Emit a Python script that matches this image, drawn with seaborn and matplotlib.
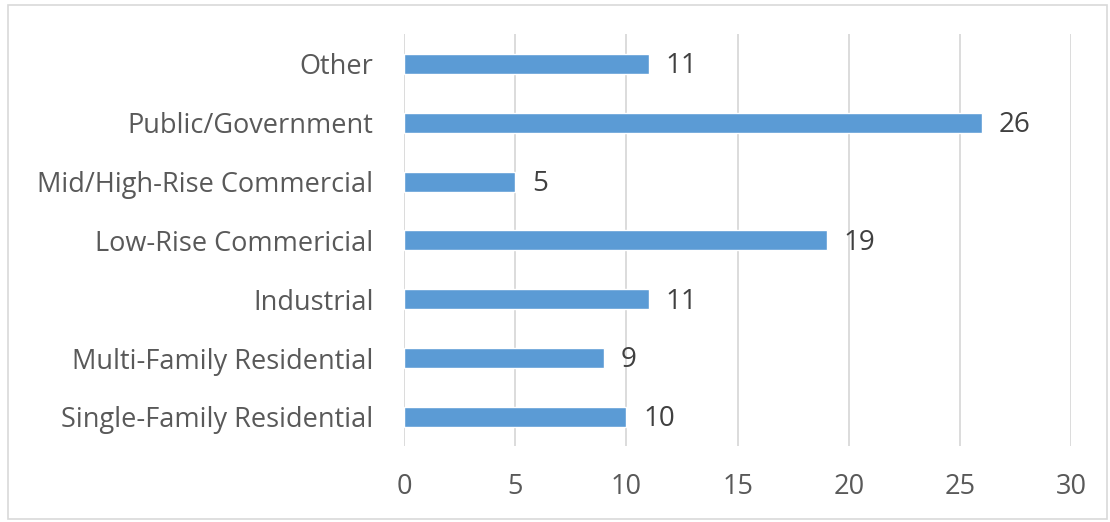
import matplotlib
matplotlib.use("Agg")
import matplotlib.pyplot as plt
import seaborn as sns
import pandas as pd
from matplotlib.patches import Rectangle

# 数据
categories = ["Other", "Public/Government", "Mid/High-Rise Commercial",
              "Low-Rise Commericial", "Industrial", "Multi-Family Residential",
              "Single-Family Residential"]
counts = [11, 26, 5, 19, 11, 9, 10]
x_ticks = [0, 5, 10, 15, 20, 25, 30]

df = pd.DataFrame({"category": categories, "count": counts})

sns.set_theme(style="white")
plt.rcParams["font.family"] = ["Open Sans", "DejaVu Sans"]

fig = plt.figure(figsize=(11.1, 5.22), dpi=100)
ax = fig.add_axes([0.364, 0.145, 0.601, 0.789])

sns.barplot(data=df, x="count", y="category", color="#5B9BD5",
            width=0.34, saturation=1, ax=ax, zorder=3)

ax.set_xlim(0, 30)
ax.set_xticks(x_ticks)
ax.xaxis.grid(True, color="#D9D9D9", linewidth=1.3, zorder=0)
ax.set_axisbelow(True)
for s in ax.spines.values():
    s.set_visible(False)
ax.set_xlabel("")
ax.set_ylabel("")
ax.tick_params(axis="x", labelsize=19.5, colors="#595959", length=0, pad=19)
ax.tick_params(axis="y", labelsize=19.5, colors="#595959", length=0, pad=22)

# 数据标签
for i, v in enumerate(counts):
    ax.text(v + 0.75, i + 0.04, str(v), va="center", ha="left",
            fontsize=20, color="#404040")

# 外框
fig.patches.append(Rectangle((8 / 1110, 0.005), 1 - 8 / 1110 - 0.003, 1 - 5 / 522 - 0.005,
                             transform=fig.transFigure, fill=False,
                             edgecolor="#D9D9D9", linewidth=1.2))

fig.savefig("out.png", dpi=100)
